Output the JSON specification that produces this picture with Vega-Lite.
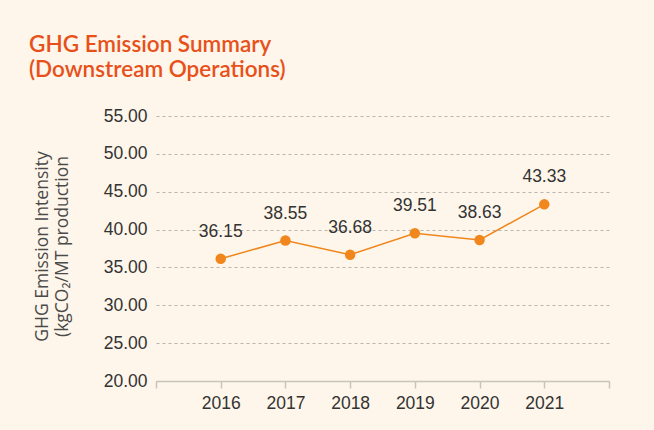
{
  "$schema": "https://vega.github.io/schema/vega-lite/v6.json",
  "width": 453,
  "height": 265,
  "autosize": {"type": "none"},
  "padding": {"left": 156, "top": 116, "right": 45, "bottom": 49},
  "background": "#FEF6EA",
  "title": {
    "text": ["GHG Emission Summary", "(Downstream Operations)"],
    "anchor": "start",
    "frame": "group",
    "dx": -127,
    "offset": 26,
    "font": "Lato",
    "fontSize": 22.5,
    "fontWeight": 600,
    "color": "#E8501A",
    "lineHeight": 25
  },
  "config": {
    "view": {"stroke": null},
    "font": "Liberation Sans"
  },
  "data": {
    "values": [
      {"year": 2016, "value": 36.15},
      {"year": 2017, "value": 38.55},
      {"year": 2018, "value": 36.68},
      {"year": 2019, "value": 39.51},
      {"year": 2020, "value": 38.63},
      {"year": 2021, "value": 43.33}
    ]
  },
  "encoding": {
    "x": {
      "field": "year",
      "type": "quantitative",
      "scale": {"domain": [2015, 2022], "nice": false, "zero": false},
      "axis": {
        "title": null,
        "values": [2015, 2016, 2017, 2018, 2019, 2020, 2021, 2022],
        "labelExpr": "datum.value == 2015 || datum.value == 2022 ? '' : datum.value",
        "grid": false,
        "domainColor": "#C8C4BC",
        "domainWidth": 1.5,
        "tickColor": "#C8C4BC",
        "tickWidth": 1.5,
        "tickSize": 7,
        "labelFont": "Liberation Sans",
        "labelFontSize": 17.5,
        "labelColor": "#333333",
        "labelPadding": 6
      }
    },
    "y": {
      "field": "value",
      "type": "quantitative",
      "scale": {"domain": [20, 55], "nice": false, "zero": false},
      "axis": {
        "values": [20, 25, 30, 35, 40, 45, 50, 55],
        "format": ".2f",
        "domain": false,
        "ticks": false,
        "grid": true,
        "gridColor": "#B8B5AE",
        "gridDash": [3, 3],
        "gridWidth": 1,
        "labelFont": "Liberation Sans",
        "labelFontSize": 17.5,
        "labelColor": "#333333",
        "labelPadding": 9,
        "title": ["GHG Emission Intensity", "(kgCO₂/MT production"],
        "titleFont": "Open Sans",
        "titleFontSize": 17.5,
        "titleFontWeight": "normal",
        "titleColor": "#4a4a4a",
        "titleAngle": -90,
        "titleAlign": "center",
        "titleBaseline": "top",
        "titleX": -123,
        "titleY": 130,
        "titleLineHeight": 20
      }
    }
  },
  "layer": [
    {
      "mark": {"type": "line", "color": "#F0861C", "strokeWidth": 1.5}
    },
    {
      "mark": {"type": "point", "filled": true, "color": "#F0861C", "size": 110, "opacity": 1}
    },
    {
      "mark": {"type": "text", "dy": -27, "font": "Liberation Sans", "fontSize": 17.5, "color": "#333333"},
      "encoding": {
        "text": {"field": "value", "type": "quantitative", "format": ".2f"}
      }
    }
  ]
}
